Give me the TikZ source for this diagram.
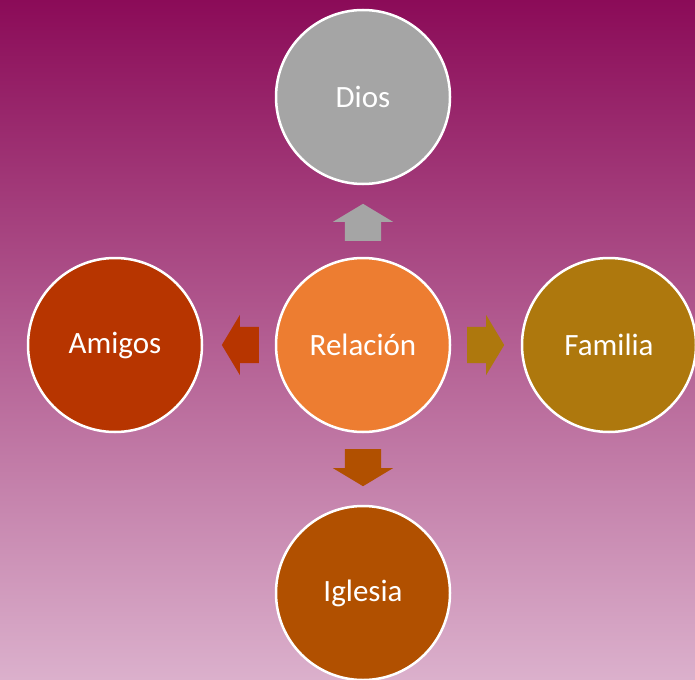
\documentclass[tikz,border=0pt]{standalone}
\usepackage{fontspec}
\setmainfont{Carlito}
\usetikzlibrary{shapes.arrows}
\definecolor{bg_top}{RGB}{139, 11, 88}
\definecolor{bg_bot}{RGB}{219, 176, 204}
\definecolor{rel_orange}{RGB}{237, 125, 49}
\definecolor{rel_gray}{RGB}{165, 165, 165}
\definecolor{rel_rust}{RGB}{183, 53, 0}
\definecolor{rel_gold}{RGB}{174, 120, 13}
\definecolor{rel_brown}{RGB}{177, 80, 0}
\tikzstyle{bubble}=[circle,draw=white,line width=2.5pt,inner sep=0pt,
  minimum size=174pt,text=white,font=\fontsize{31}{36}\selectfont]
\tikzstyle{blk}=[single arrow,draw=none,inner xsep=0pt,inner ysep=18pt,anchor=tail,
  minimum height=37pt,single arrow head extend=12pt,single arrow tip angle=118]

\begin{document}
\begin{tikzpicture}[x=1pt, y=-1pt]
        \useasboundingbox (0, 0) rectangle (695, 679);
        \clip (0, 0) rectangle (695, 679);
        \fill [top color=bg_top, bottom color=bg_bot] (0, 0) rectangle (695, 679);
        \node [style=bubble, fill=rel_orange] (0) at (363, 345) {Relación};
        \node [style=bubble, fill=rel_gray] (1) at (363, 97) {Dios};
        \node [style=bubble, fill=rel_rust] (2) at (115, 345) {Amigos};
        \node [style=bubble, fill=rel_gold] (3) at (609, 345) {Familia};
        \node [style=bubble, fill=rel_brown] (4) at (363, 593) {Iglesia};
        \node [style=blk, fill=rel_gray, rotate=90] (5) at (363, 241) {};
        \node [style=blk, fill=rel_rust, rotate=180] (6) at (259, 345) {};
        \node [style=blk, fill=rel_gold] (7) at (467, 345) {};
        \node [style=blk, fill=rel_brown, rotate=270] (8) at (363, 449) {};
    \end{tikzpicture}
\end{document}
